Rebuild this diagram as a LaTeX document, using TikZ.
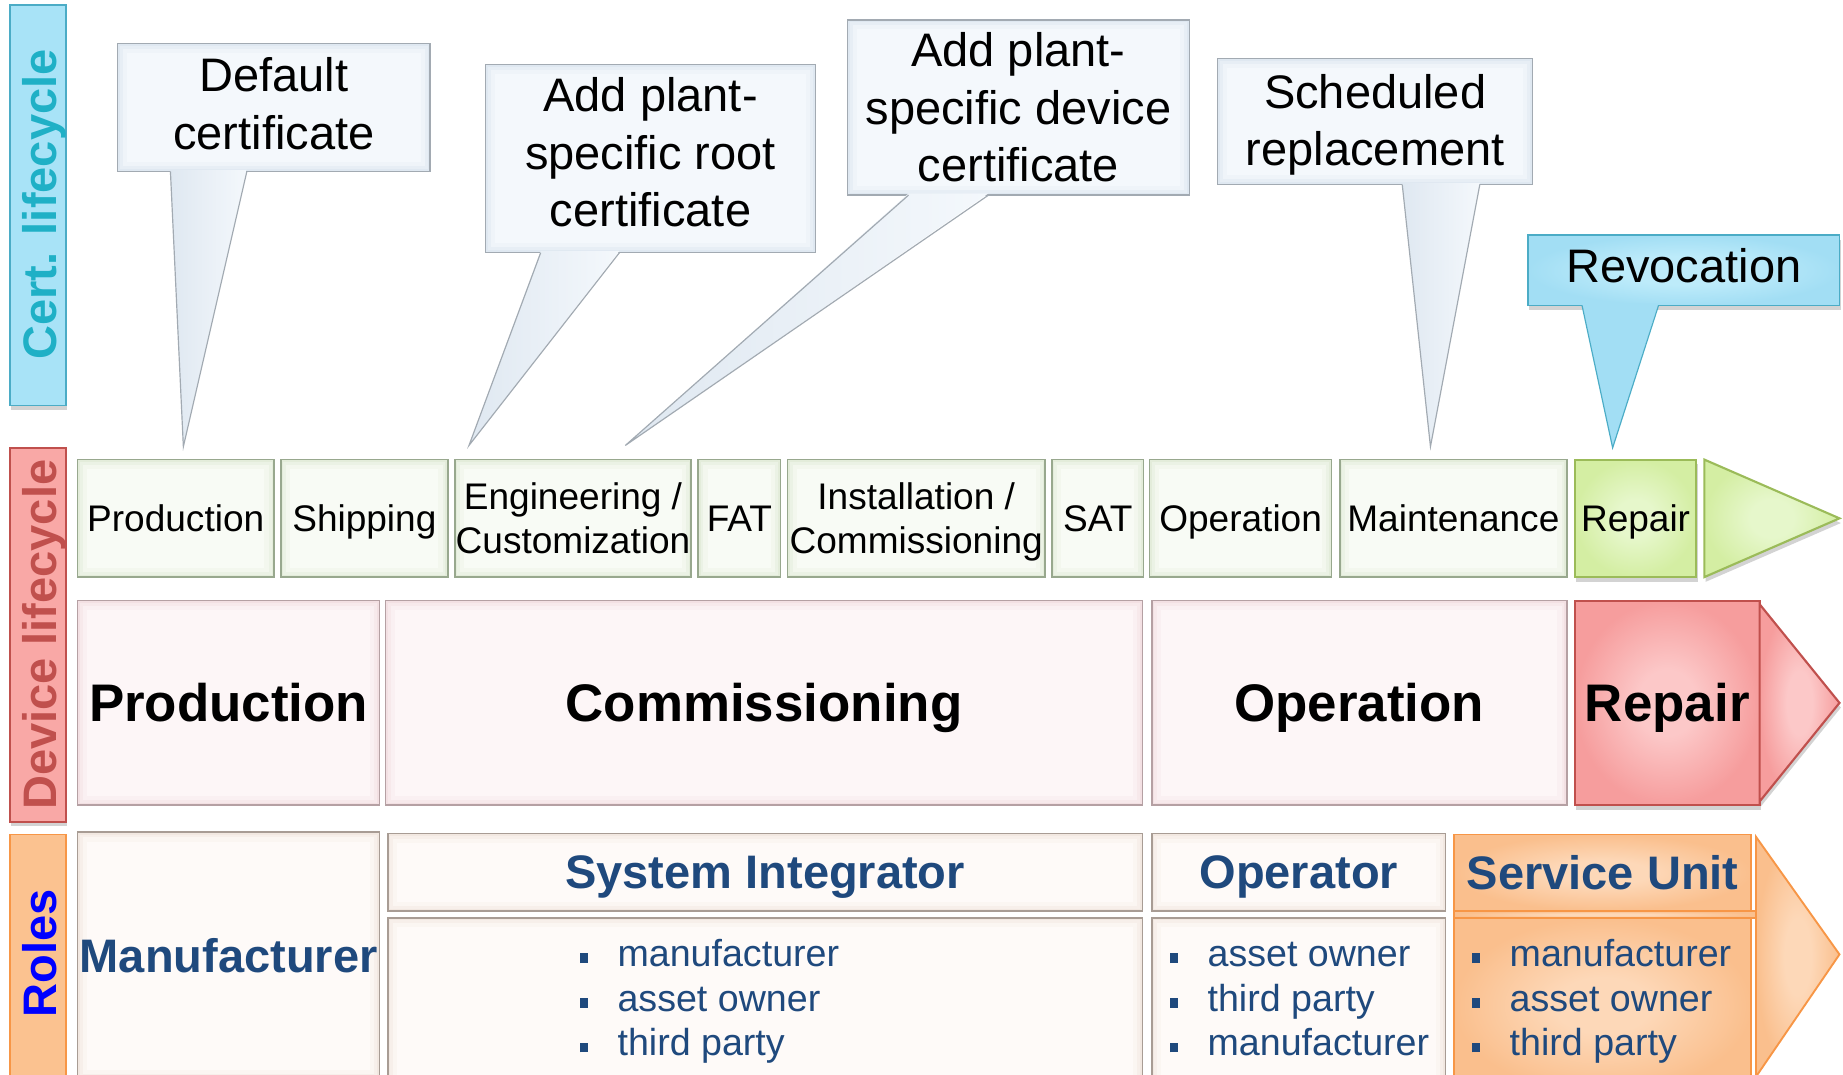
\documentclass[tikz,border=0pt]{standalone}
\usepackage{fontspec}
\setmainfont{Liberation Sans}
\usetikzlibrary{calc,shadows}

% palette
\definecolor{stepline}{HTML}{98A88E}
\definecolor{stepin}{HTML}{F8FBF5}
\definecolor{stepout}{HTML}{E3ECDA}
\definecolor{phaseline}{HTML}{B5A0A3}
\definecolor{phasein}{HTML}{FDF6F7}
\definecolor{phaseout}{HTML}{F3E0E3}
\definecolor{roleline}{HTML}{A89C94}
\definecolor{rolein}{HTML}{FEFAF8}
\definecolor{roleout}{HTML}{F2E8E1}
\definecolor{repaline}{HTML}{9BBB59}
\definecolor{repain}{HTML}{E6F7CB}
\definecolor{repaout}{HTML}{D4EEA3}
\definecolor{repbline}{HTML}{C0504D}
\definecolor{repbin}{HTML}{FCC8C8}
\definecolor{repbout}{HTML}{F69D9D}
\definecolor{suline}{HTML}{F79646}
\definecolor{suin}{HTML}{FDD8B8}
\definecolor{suout}{HTML}{FABF8D}
\definecolor{calline}{HTML}{A2AAB2}
\definecolor{callin}{HTML}{F4F8FC}
\definecolor{callout}{HTML}{DFE8F1}
\definecolor{revline}{HTML}{4BACC6}
\definecolor{revin}{HTML}{BDEBFA}
\definecolor{revout}{HTML}{A2DEF4}
\definecolor{certline}{HTML}{4BACC6}
\definecolor{certfill}{HTML}{A8E3F7}
\definecolor{certtext}{HTML}{1FB0C6}
\definecolor{devline}{HTML}{C0504D}
\definecolor{devfill}{HTML}{F9A8A6}
\definecolor{devtext}{HTML}{C0504D}
\definecolor{rolesline}{HTML}{F79646}
\definecolor{rolesfill}{HTML}{FBC290}
\definecolor{rolestext}{HTML}{0000FF}
\definecolor{roleblue}{HTML}{1F497D}

% radial shadings for the highlighted boxes
\pgfdeclareradialshading{repashade}{\pgfpointorigin}{color(0bp)=(repain); color(8bp)=(repain); color(25bp)=(repaout); color(50bp)=(repaout)}
\pgfdeclareradialshading{repbshade}{\pgfpointorigin}{color(0bp)=(repbin); color(8bp)=(repbin); color(25bp)=(repbout); color(50bp)=(repbout)}
\pgfdeclareradialshading{sushade}{\pgfpointorigin}{color(0bp)=(suin); color(8bp)=(suin); color(25bp)=(suout); color(50bp)=(suout)}
\pgfdeclareradialshading{revshade}{\pgfpointorigin}{color(0bp)=(revin); color(10bp)=(revin); color(25bp)=(revout); color(50bp)=(revout)}

% callout tail: box node, two base offsets from its south west corner, tip, fill style, line colour
\newcommand\calltail[6]{%
  \path[#5] ($(#1.south west)+(#2,-1.5)$) -- (#4) -- ($(#1.south west)+(#3,-1.5)$) -- cycle;
  \draw[draw=#6, line width=0.5pt, line join=miter]
    ($(#1.south west)+(#2,0)$) -- (#4) -- ($(#1.south west)+(#3,0)$);}
% square list bullet and first-line strut
\newcommand\lbul{\makebox[1em][l]{\rule[1.5pt]{3.3pt}{4.2pt}}}
\newcommand\firstln{\rule{0pt}{12pt}}

\begin{document}
\begin{tikzpicture}[x=0.5pt, y=-0.5pt,
  % a rectangle spanning (x1,y1)-(x2,y2), in picture units
  span/.style n args={4}{at={({(#1+#3)/2},{(#2+#4)/2})},
    minimum width={(#3-#1)*0.5pt}, minimum height={(#4-#2)*0.5pt}},
  % bevelled fill: rim colour #2 stepping to face colour #1
  bevel/.style 2 args={fill=#2, path picture={
    \fill[#1!40!#2] ([shift={(2,2)}]path picture bounding box.north west)
      rectangle ([shift={(-2,-2)}]path picture bounding box.south east);
    \fill[#1!75!#2] ([shift={(4.5,4.5)}]path picture bounding box.north west)
      rectangle ([shift={(-4.5,-4.5)}]path picture bounding box.south east);
    \fill[#1] ([shift={(8,8)}]path picture bounding box.north west)
      rectangle ([shift={(-8,-8)}]path picture bounding box.south east);}},
  box/.style={inner sep=0pt, outer sep=0pt, line width=0.6pt},
  softshadow/.style={drop shadow={shadow xshift=0.6pt, shadow yshift=-2pt, opacity=0.35}},
  stepbox/.style={box, draw=stepline, bevel={stepin}{stepout}, font=\fontsize{15.75}{18.5}\selectfont},
  stepone/.style={stepbox, text height=11.3pt, text depth=0pt},
  steptwo/.style={stepbox, align=center},
  repairone/.style={draw=repaline, path picture={}, shading=repashade, line width=0.9pt, softshadow},
  phasebox/.style={box, draw=phaseline, bevel={phasein}{phaseout}, font=\fontsize{22.5}{27}\selectfont\bfseries, text height=16.1pt, text depth=0pt},
  repairtwo/.style={draw=repbline, path picture={}, shading=repbshade, line width=0.9pt, softshadow},
  rolehead/.style={box, draw=roleline, bevel={rolein}{roleout}, text=roleblue, font=\fontsize{20}{24}\selectfont\bfseries, text height=14.3pt, text depth=0pt},
  rolelist/.style={box, draw=roleline, bevel={rolein}{roleout}},
  service/.style={draw=suline, path picture={}, shading=sushade, line width=0.8pt},
  listtext/.style={inner sep=0pt, anchor=north west, align=left, text=roleblue, font=\fontsize{16}{19}\selectfont},
  callbox/.style={box, draw=calline, bevel={callin}{callout}, align=center, font=\fontsize{20}{24.5}\selectfont},
  revbox/.style={draw=revline, path picture={}, shading=revshade, line width=0.7pt, softshadow},
  tailfill/.style={left color=callout, right color=callin},
  revtail/.style={fill=revout},
  sidebar/.style={box, line width=0.8pt, softshadow},
  sidetext/.style={rotate=90, inner sep=0pt, font=\fontsize{20}{24}\selectfont\bfseries, text height=14.3pt, text depth=0pt}
]
\useasboundingbox (0,0) rectangle (1568,914);
\clip (0,0) rectangle (1568,914);

% ---- side bars ----
\node[sidebar, draw=certline, fill=certfill, span={8.5}{4}{56}{345}] (bar-cert) {};
\node[sidetext, text=certtext] (t-cert) at (33.4,174) {Cert. lifecycle};
\node[sidebar, draw=devline, fill=devfill, span={8.5}{381}{56}{699}] (bar-dev) {};
\node[sidetext, text=devtext] (t-dev) at (33.4,540) {Device lifecycle};
\node[sidebar, draw=rolesline, fill=rolesfill, span={8.5}{710}{56}{930}] (bar-roles) {};
\node[sidetext, text=rolestext] (t-roles) at (33.4,811) {Roles};

% ---- certificate callouts ----
\node[callbox, span={100}{37}{366}{146}] (c-def)
  {Default\\certificate\rule[-3.6pt]{0pt}{3.6pt}};
\node[callbox, span={413}{55}{694}{215}] (c-root)
  {Add plant-\\specific root\\certificate\rule[-5.6pt]{0pt}{5.6pt}};
\node[callbox, span={721}{17}{1012}{166}] (c-dev)
  {Add plant-\\specific device\\certificate};
\node[callbox, span={1036}{50}{1304}{157}] (c-sched)
  {\rule{0pt}{17.2pt}Scheduled\\replacement};
\node[callbox, revbox, span={1300}{200}{1565}{260}] (c-rev)
  {Revocation\rule[-4.5pt]{0pt}{4.5pt}};

\coordinate (tip-def) at (156,380);
\coordinate (tip-root) at (399,379);
\coordinate (tip-dev) at (532,379);
\coordinate (tip-sched) at (1217,380);
\coordinate (tip-rev) at (1372,381);

\calltail{c-def}{45}{110}{tip-def}{tailfill}{calline}
\calltail{c-root}{47}{114}{tip-root}{tailfill}{calline}
\calltail{c-dev}{52}{120}{tip-dev}{tailfill}{calline}
\calltail{c-sched}{157}{223}{tip-sched}{tailfill}{calline}
\calltail{c-rev}{46}{111}{tip-rev}{revtail}{revline}

% ---- device lifecycle steps ----
\node[stepone, span={66}{391}{233}{491}] (s-prod) {Production};
\node[stepone, span={239}{391}{381}{491}] (s-ship) {Shipping};
\node[steptwo, span={387}{391}{588}{491}] (s-eng)
  {\rule{0pt}{14.5pt}Engineering /\\Customization\rule[-3.3pt]{0pt}{3.3pt}};
\node[stepone, span={594}{391}{664}{491}] (s-fat) {FAT};
\node[steptwo, span={670}{391}{889}{491}] (s-inst)
  {\rule{0pt}{14.5pt}Installation /\\Commissioning};
\node[stepone, span={895}{391}{973}{491}] (s-sat) {SAT};
\node[stepone, span={978}{391}{1133}{491}] (s-oper) {Operation};
\node[stepone, span={1140}{391}{1333}{491}] (s-maint) {Maintenance};
\node[stepone, repairone, span={1340}{391}{1443}{491}] (s-rep) {Repair};
\path[repairone] ($(s-rep.north east)+(7,0)$) -- ($(s-rep.east)+(122,0)$)
  -- ($(s-rep.south east)+(7,0)$) -- cycle;

% ---- device lifecycle phases ----
\node[phasebox, span={66}{511}{323}{685}] (p-prod) {Production};
\node[phasebox, span={328}{511}{972}{685}] (p-comm) {Commissioning};
\node[phasebox, span={980}{511}{1333}{685}] (p-oper) {Operation};
\node[phasebox, repairtwo, span={1340}{511}{1497}{685}] (p-rep) {Repair};
\path[repairtwo] ($(p-rep.north east)+(0,3)$) -- ($(p-rep.east)+(68,0)$)
  -- ($(p-rep.south east)+(0,-3)$) -- cycle;

% ---- roles ----
\node[rolehead, span={66}{708}{323}{918}] (r-man) {Manufacturer};
\node[rolehead, span={330}{709}{972}{775}] (r-si) {System Integrator};
\node[rolelist, span={330}{781}{972}{930}] (r-si-l) {};
\node[rolehead, span={980}{709}{1230}{775}] (r-op) {Operator};
\node[rolelist, span={980}{781}{1230}{930}] (r-op-l) {};
\path[service] (1494,712) -- (1565,812) -- (1494,916) -- cycle;
\node[rolehead, service, span={1237}{710}{1490}{775}] (r-su) {Service Unit};
\node[rolelist, service, span={1237}{781}{1490}{930}] (r-su-l) {};
\path[service] (r-su.south west) rectangle ($(r-su-l.north east)+(4,0)$);

\node[listtext] (l-si) at (493,798)
  {\firstln\lbul manufacturer\\\lbul asset owner\\\lbul third party};
\node[listtext] (l-op) at (995,798)
  {\firstln\lbul asset owner\\\lbul third party\\\lbul manufacturer};
\node[listtext] (l-su) at (1252,798)
  {\firstln\lbul manufacturer\\\lbul asset owner\\\lbul third party};
\end{tikzpicture}
\end{document}
